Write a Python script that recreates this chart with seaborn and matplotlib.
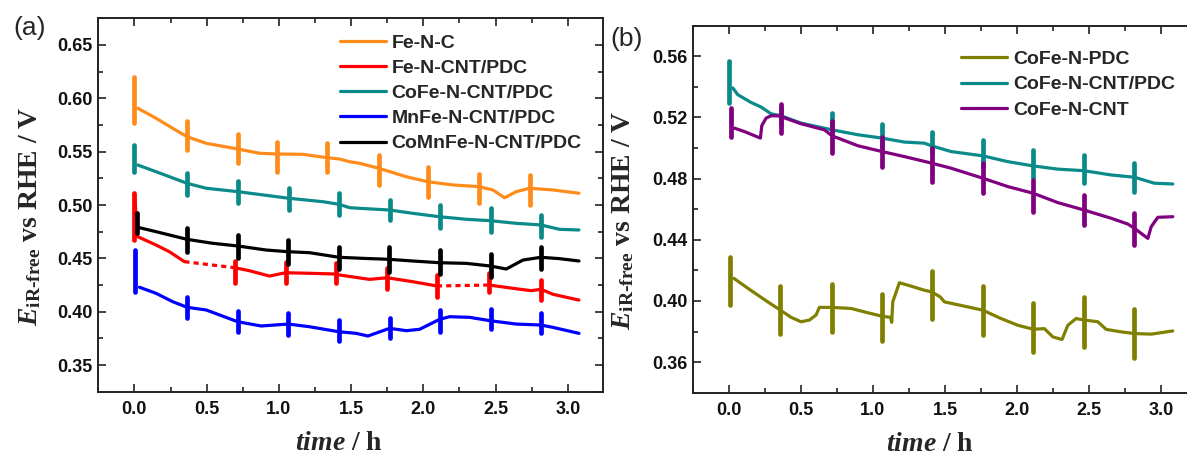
import matplotlib
matplotlib.use("Agg")
import matplotlib.pyplot as plt
from matplotlib.ticker import MultipleLocator, FormatStrFormatter
from matplotlib.font_manager import FontProperties, fontManager
import seaborn as sns

# ---------------- panel (a) ----------------
fenc_t = [0.023, 0.150, 0.265, 0.365, 0.497, 0.715, 0.866, 0.988, 1.166, 1.335, 1.420, 1.489,
          1.558, 1.692, 1.882, 2.031, 2.204, 2.384, 2.481, 2.562, 2.643, 2.735, 2.897, 3.077]
fenc_v = [0.5907, 0.5813, 0.5719, 0.5640, 0.5578, 0.5525, 0.5485, 0.5478, 0.5475, 0.5443, 0.5431, 0.5406,
          0.5391, 0.5344, 0.5265, 0.5218, 0.5188, 0.5172, 0.5141, 0.5068, 0.5125, 0.5157, 0.5141, 0.5110]
fenc_spk_t = [0.0, 0.365, 0.715, 0.988, 1.335, 1.692, 2.031, 2.384, 2.735]
fenc_spk_hi = [0.6203, 0.5787, 0.5663, 0.5588, 0.5578, 0.5469, 0.5359, 0.5288, 0.5281]
fenc_spk_lo = [0.5766, 0.5516, 0.5391, 0.5312, 0.5307, 0.5187, 0.5078, 0.5016, 0.5000]

# Fe-N-CNT/PDC: three measured stretches joined by two dashed gaps
fecnt_t1 = [0.0, 0.023, 0.150, 0.242, 0.346]
fecnt_v1 = [0.5110, 0.4703, 0.4625, 0.4562, 0.4469]
fecnt_t2 = [0.697, 0.796, 0.935, 1.046, 1.212, 1.397, 1.420, 1.627, 1.750, 1.927, 2.094]
fecnt_v2 = [0.4412, 0.4384, 0.4334, 0.4365, 0.4360, 0.4353, 0.4344, 0.4303, 0.4318, 0.4281, 0.4241]
fecnt_t3 = [2.454, 2.620, 2.747, 2.814, 2.897, 3.077]
fecnt_v3 = [0.4250, 0.4219, 0.4197, 0.4210, 0.4163, 0.4109]
fecnt_gap1_t = [0.346, 0.697]
fecnt_gap1_v = [0.4469, 0.4412]
fecnt_gap2_t = [2.094, 2.454]
fecnt_gap2_v = [0.4241, 0.4250]
fecnt_spk_t = [0.0, 0.697, 1.046, 1.397, 1.750, 2.094, 2.454, 2.814]
fecnt_spk_hi = [0.5110, 0.4478, 0.4469, 0.4453, 0.4407, 0.4344, 0.4365, 0.4297]
fecnt_spk_lo = [0.4672, 0.4272, 0.4266, 0.4266, 0.4210, 0.4140, 0.4187, 0.4109]

cofe_a_t = [0.023, 0.150, 0.365, 0.497, 0.715, 1.069, 1.304, 1.415, 1.489, 1.558, 1.766, 1.927,
            2.112, 2.297, 2.465, 2.643, 2.814, 2.943, 3.077]
cofe_a_v = [0.5375, 0.5312, 0.5203, 0.5157, 0.5125, 0.5063, 0.5031, 0.5007, 0.4975, 0.4969, 0.4953, 0.4922,
            0.4890, 0.4866, 0.4853, 0.4828, 0.4813, 0.4772, 0.4766]
cofe_a_spk_t = [0.0, 0.365, 0.715, 1.069, 1.415, 1.766, 2.112, 2.465, 2.814]
cofe_a_spk_hi = [0.5563, 0.5297, 0.5228, 0.5157, 0.5110, 0.5047, 0.5000, 0.4969, 0.4906]
cofe_a_spk_lo = [0.5312, 0.5094, 0.5016, 0.4953, 0.4906, 0.4859, 0.4782, 0.4750, 0.4703]

mnfe_t = [0.035, 0.150, 0.265, 0.365, 0.497, 0.715, 0.877, 1.066, 1.212, 1.415, 1.535, 1.616,
          1.766, 1.882, 1.974, 2.112, 2.181, 2.320, 2.465, 2.643, 2.814, 2.897, 3.077]
mnfe_v = [0.4229, 0.4172, 0.4094, 0.4041, 0.4016, 0.3906, 0.3866, 0.3884, 0.3859, 0.3812, 0.3797, 0.3772,
          0.3844, 0.3822, 0.3835, 0.3928, 0.3953, 0.3947, 0.3915, 0.3884, 0.3875, 0.3853, 0.3797]
mnfe_spk_t = [0.005, 0.365, 0.715, 1.066, 1.415, 1.766, 2.112, 2.465, 2.814]
mnfe_spk_hi = [0.4578, 0.4135, 0.4009, 0.3985, 0.3922, 0.3938, 0.4016, 0.4022, 0.3985]
mnfe_spk_lo = [0.4187, 0.3938, 0.3812, 0.3781, 0.3728, 0.3750, 0.3812, 0.3835, 0.3803]

comnfe_t = [0.023, 0.150, 0.365, 0.542, 0.715, 0.912, 1.066, 1.212, 1.415, 1.581, 1.761, 1.927,
            2.112, 2.297, 2.465, 2.574, 2.689, 2.814, 2.943, 3.077]
comnfe_v = [0.4791, 0.4750, 0.4678, 0.4641, 0.4616, 0.4578, 0.4562, 0.4553, 0.4510, 0.4500, 0.4491, 0.4475,
            0.4459, 0.4453, 0.4428, 0.4400, 0.4484, 0.4510, 0.4497, 0.4475]
comnfe_spk_t = [0.019, 0.365, 0.715, 1.066, 1.415, 1.761, 2.112, 2.465, 2.814]
comnfe_spk_hi = [0.4922, 0.4782, 0.4719, 0.4672, 0.4609, 0.4609, 0.4578, 0.4541, 0.4609]
comnfe_spk_lo = [0.4735, 0.4562, 0.4500, 0.4447, 0.4397, 0.4375, 0.4353, 0.4322, 0.4397]

# ---------------- panel (b) ----------------
pdc_t = [0.035, 0.143, 0.270, 0.358, 0.432, 0.501, 0.559, 0.605, 0.628, 0.714, 0.848, 0.964, 1.063,
         1.121, 1.130, 1.137, 1.183, 1.264, 1.357, 1.408, 1.467, 1.495, 1.634, 1.761, 1.888, 2.004,
         2.112, 2.189, 2.247, 2.311, 2.351, 2.408, 2.466, 2.559, 2.617, 2.720, 2.813, 2.929, 3.079]
pdc_v = [0.4148, 0.4076, 0.3994, 0.3940, 0.3893, 0.3864, 0.3875, 0.3908, 0.3958, 0.3958, 0.3951, 0.3923, 0.3900,
         0.3893, 0.3860, 0.3994, 0.4119, 0.4097, 0.4070, 0.4059, 0.4026, 0.3994, 0.3966, 0.3940, 0.3885, 0.3841,
         0.3815, 0.3819, 0.3765, 0.3748, 0.3841, 0.3885, 0.3875, 0.3864, 0.3814, 0.3798, 0.3787, 0.3783, 0.3804]
pdc_spk_t = [0.011, 0.358, 0.714, 1.063, 1.408, 1.761, 2.112, 2.466, 2.813]
pdc_spk_hi = [0.4290, 0.4098, 0.4113, 0.4047, 0.4199, 0.4098, 0.3987, 0.4029, 0.3945]
pdc_spk_lo = [0.3973, 0.3782, 0.3796, 0.3741, 0.3882, 0.3775, 0.3666, 0.3697, 0.3624]

cofe_b_t = [0.028, 0.062, 0.155, 0.224, 0.293, 0.363, 0.501, 0.716, 0.895, 1.063, 1.218, 1.356, 1.408,
            1.542, 1.761, 1.935, 2.112, 2.282, 2.462, 2.651, 2.813, 2.951, 3.079]
cofe_b_v = [0.5393, 0.5349, 0.5298, 0.5268, 0.5224, 0.5211, 0.5163, 0.5119, 0.5087, 0.5065, 0.5039, 0.5032, 0.5014,
            0.4977, 0.4949, 0.4911, 0.4883, 0.4862, 0.4852, 0.4824, 0.4809, 0.4770, 0.4765]
cofe_b_spk_t = [0.004, 0.363, 0.716, 1.063, 1.408, 1.761, 2.112, 2.462, 2.813]
cofe_b_spk_hi = [0.5567, 0.5270, 0.5229, 0.5159, 0.5108, 0.5054, 0.4988, 0.4955, 0.4905]
cofe_b_spk_lo = [0.5294, 0.5150, 0.5098, 0.5010, 0.4967, 0.4879, 0.4803, 0.4770, 0.4715]

cnt_t = [0.039, 0.108, 0.219, 0.229, 0.259, 0.293, 0.344, 0.363, 0.501, 0.663, 0.716, 0.895, 1.063, 1.218,
         1.408, 1.542, 1.761, 1.935, 2.112, 2.282, 2.462, 2.651, 2.767, 2.813, 2.906, 2.929, 2.975, 3.079]
cnt_v = [0.5130, 0.5108, 0.5065, 0.5147, 0.5196, 0.5211, 0.5210, 0.5205, 0.5159, 0.5119, 0.5080, 0.5015, 0.4977,
         0.4944, 0.4901, 0.4868, 0.4803, 0.4748, 0.4704, 0.4643, 0.4595, 0.4541, 0.4503, 0.4475, 0.4409, 0.4485,
         0.4547, 0.4551]
cnt_spk_t = [0.016, 0.363, 0.716, 1.063, 1.408, 1.761, 2.112, 2.462, 2.813]
cnt_spk_hi = [0.5262, 0.5290, 0.5174, 0.5071, 0.4999, 0.4900, 0.4791, 0.4693, 0.4577]
cnt_spk_lo = [0.5071, 0.5098, 0.4970, 0.4879, 0.4780, 0.4704, 0.4584, 0.4496, 0.4365]

# ---------------- style ----------------
sns.set_theme(style="ticks")


def bold_sans_file():
    """Path of a bold Arial-like face, preferring Liberation Sans."""
    for fam in ("Liberation Sans", "Arimo", "Noto Sans", "Roboto", "DejaVu Sans"):
        for f in fontManager.ttflist:
            if f.name == fam and f.style == "normal" and (f.weight in ("bold", 700) or
                                                           str(f.weight) == "700"):
                return f.fname
    return None


BOLD_SANS = bold_sans_file()
plt.rcParams["font.family"] = ["Liberation Sans", "DejaVu Sans"]
plt.rcParams["font.weight"] = "bold"
plt.rcParams["mathtext.fontset"] = "custom"
plt.rcParams["mathtext.rm"] = "Liberation Serif:bold"
plt.rcParams["mathtext.bf"] = "Liberation Serif:bold"
plt.rcParams["mathtext.it"] = "Liberation Serif:italic:bold"

C_ORANGE = "#FF8C1A"
C_RED = "#FF0000"
C_TEAL = "#0B8A8A"
C_BLUE = "#0000FF"
C_BLACK = "#000000"
C_OLIVE = "#808000"
C_PURPLE = "#800080"

LW = 2.3
SPK_LW = 3.4

if BOLD_SANS:
    tick_font = FontProperties(fname=BOLD_SANS, size=13)
    leg_font = FontProperties(fname=BOLD_SANS, size=14)
else:
    tick_font = FontProperties(family="Liberation Sans", weight="bold", size=13)
    leg_font = FontProperties(family="Liberation Sans", weight="bold", size=14)
lab_font = FontProperties(family="Liberation Serif", weight="bold", size=20)

fig = plt.figure(figsize=(11.87, 4.55), dpi=100)
ax_a = fig.add_axes([0.0828, 0.1391, 0.4248, 0.8207])
ax_b = fig.add_axes([0.5836, 0.1369, 0.4240, 0.8066])


def curve(ax, t, v, color, label=None):
    sns.lineplot(x=t, y=v, ax=ax, color=color, lw=LW, label=label,
                 sort=False, estimator=None, legend=False)


def spikes(ax, t, lo, hi, color):
    lc = ax.vlines(t, lo, hi, colors=color, lw=SPK_LW)
    lc.set_capstyle("round")


# panel (a)
curve(ax_a, fenc_t, fenc_v, C_ORANGE, "Fe-N-C")
spikes(ax_a, fenc_spk_t, fenc_spk_lo, fenc_spk_hi, C_ORANGE)
curve(ax_a, cofe_a_t, cofe_a_v, C_TEAL, "CoFe-N-CNT/PDC")
spikes(ax_a, cofe_a_spk_t, cofe_a_spk_lo, cofe_a_spk_hi, C_TEAL)
curve(ax_a, mnfe_t, mnfe_v, C_BLUE, "MnFe-N-CNT/PDC")
spikes(ax_a, mnfe_spk_t, mnfe_spk_lo, mnfe_spk_hi, C_BLUE)
curve(ax_a, fecnt_t1, fecnt_v1, C_RED, "Fe-N-CNT/PDC")
curve(ax_a, fecnt_t2, fecnt_v2, C_RED)
curve(ax_a, fecnt_t3, fecnt_v3, C_RED)
for gt, gv in ((fecnt_gap1_t, fecnt_gap1_v), (fecnt_gap2_t, fecnt_gap2_v)):
    ax_a.plot(gt, gv, color=C_RED, lw=LW, dashes=(1.6, 1.3))
spikes(ax_a, fecnt_spk_t, fecnt_spk_lo, fecnt_spk_hi, C_RED)
curve(ax_a, comnfe_t, comnfe_v, C_BLACK, "CoMnFe-N-CNT/PDC")
spikes(ax_a, comnfe_spk_t, comnfe_spk_lo, comnfe_spk_hi, C_BLACK)

# panel (b)
curve(ax_b, pdc_t, pdc_v, C_OLIVE, "CoFe-N-PDC")
spikes(ax_b, pdc_spk_t, pdc_spk_lo, pdc_spk_hi, C_OLIVE)
curve(ax_b, cofe_b_t, cofe_b_v, C_TEAL, "CoFe-N-CNT/PDC")
spikes(ax_b, cofe_b_spk_t, cofe_b_spk_lo, cofe_b_spk_hi, C_TEAL)
curve(ax_b, cnt_t, cnt_v, C_PURPLE, "CoFe-N-CNT")
spikes(ax_b, cnt_spk_t, cnt_spk_lo, cnt_spk_hi, C_PURPLE)

# legends
order_a = ["Fe-N-C", "Fe-N-CNT/PDC", "CoFe-N-CNT/PDC", "MnFe-N-CNT/PDC", "CoMnFe-N-CNT/PDC"]
h, l = ax_a.get_legend_handles_labels()
hm = dict(zip(l, h))
ax_a.legend([hm[k] for k in order_a], order_a, loc="upper left", bbox_to_anchor=(0.479, 0.958),
            frameon=False, borderpad=0, borderaxespad=0, handlelength=2.35, handletextpad=0.3,
            labelspacing=0.39, prop=leg_font)
h, l = ax_b.get_legend_handles_labels()
ax_b.legend(h, l, loc="upper left", bbox_to_anchor=(0.534, 0.932),
            frameon=False, borderpad=0, borderaxespad=0, handlelength=2.35, handletextpad=0.3,
            labelspacing=0.39, prop=leg_font)

ylabel = r"$E_{\mathrm{iR}\text{-}\mathrm{free}}$ vs RHE / V"
xlabel = r"$\mathit{time}$ / h"

for ax, ylim, ymaj, ymin, yfmt in ((ax_a, (0.325, 0.675), 0.05, 0.025, "%.2f"),
                                   (ax_b, (0.34, 0.58), 0.04, 0.02, "%.2f")):
    ax.set_xlim(-0.25, 3.24)
    ax.set_ylim(*ylim)
    ax.xaxis.set_major_locator(MultipleLocator(0.5))
    ax.xaxis.set_minor_locator(MultipleLocator(0.25))
    ax.yaxis.set_major_locator(MultipleLocator(ymaj))
    ax.yaxis.set_minor_locator(MultipleLocator(ymin))
    ax.xaxis.set_major_formatter(FormatStrFormatter("%.1f"))
    ax.yaxis.set_major_formatter(FormatStrFormatter(yfmt))
    ax.tick_params(which="both", direction="in", top=True, right=True, width=1.2, color="#222222")
    ax.tick_params(which="major", length=6)
    ax.tick_params(which="minor", length=3.8)
    ax.tick_params(axis="x", pad=7)
    ax.tick_params(axis="y", pad=4)
    for lab in ax.get_xticklabels() + ax.get_yticklabels():
        lab.set_fontproperties(tick_font)
        lab.set_color("#111111")
    for sp in ax.spines.values():
        sp.set_linewidth(1.4)
        sp.set_color("#222222")
    ax.set_xlabel(xlabel, fontproperties=lab_font)
    ax.set_ylabel(ylabel, fontproperties=lab_font)

ax_a.xaxis.set_label_coords(0.477, -0.105)
ax_b.xaxis.set_label_coords(0.472, -0.107)
ax_a.yaxis.set_label_coords(-0.110, 0.47)
ax_b.yaxis.set_label_coords(-0.113, 0.47)

fig.text(0.011, 0.938, "(a)", fontsize=19, family="Liberation Sans", weight="normal",
         va="center", ha="left")
fig.text(0.514, 0.914, "(b)", fontsize=19, family="Liberation Sans", weight="normal",
         va="center", ha="left")

fig.savefig("out.png", dpi=100)
